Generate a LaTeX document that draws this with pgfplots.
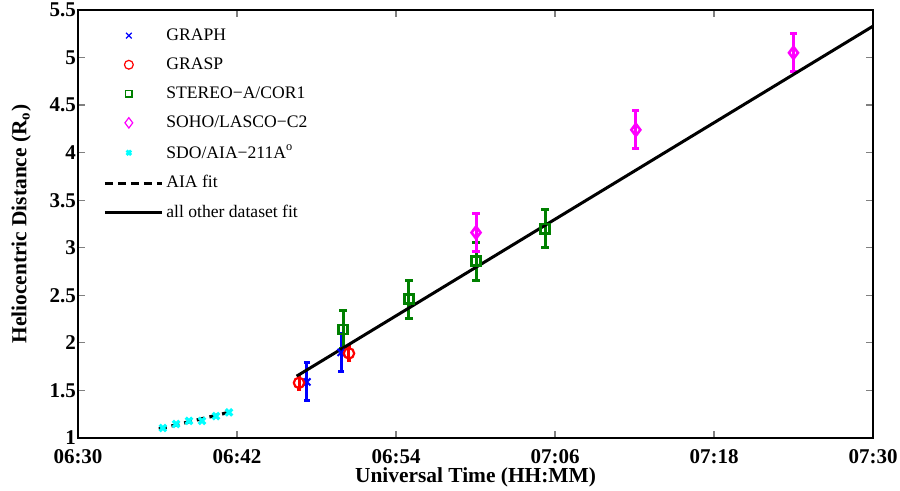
\documentclass[border=0pt]{standalone}
\usepackage{fontspec}
\setmainfont{Liberation Serif}
\usepackage{pgfplots}
\pgfplotsset{compat=1.18}
\definecolor{mgreen}{rgb}{0,0.5,0}
\definecolor{mblue}{rgb}{0,0,1}
\definecolor{mred}{rgb}{1,0,0}
\definecolor{mmag}{rgb}{1,0,1}
\definecolor{mcyan}{rgb}{0,1,1}
\begin{document}
\begin{tikzpicture}
\begin{axis}[
  scale only axis,
  width=397.5pt, height=214pt,
  xmin=0, xmax=60, ymin=1, ymax=5.5,
  xtick={0,12,24,36,48,60},
  xticklabels={06:30,06:42,06:54,07:06,07:18,07:30},
  ytick={1,1.5,2,2.5,3,3.5,4,4.5,5,5.5},
  yticklabels={1,1.5,2,2.5,3,3.5,4,4.5,5,5.5},
  tick label style={font=\fontsize{10.5}{12}\selectfont\bfseries},
  xticklabel style={yshift=-2.3pt},
  yticklabel style={xshift=2.5pt},
  /pgf/number format/assume math mode=true,
  xlabel={Universal Time (HH:MM)},
  ylabel={Heliocentric Distance (R\textsubscript{o})},
  label style={font=\fontsize{10.7}{12}\selectfont\bfseries},
  xlabel style={yshift=5pt},
  ylabel style={yshift=2.5pt},
  axis line style={line width=0.75pt},
  major tick length=3.5pt,
  major tick style={gray, line width=0.6pt},
  legend image code/.code={\draw[mark repeat=2,mark phase=2,#1] plot coordinates {(0pt,0pt) (12pt,0pt) (28.5pt,0pt)};},
  legend style={draw=none, fill=none, at={(rel axis cs:0.0314,0.965)}, anchor=north west,
    font=\fontsize{8.8}{10}\selectfont, row sep=4.2pt, inner sep=0pt,
    nodes={inner sep=1.5pt}},
  legend cell align=left,
]
% GRAPH
\addplot[forget plot, only marks, mark=x, mblue, mark size=2.5pt, mark options={line width=1pt},
  error bars/.cd, y dir=both, y explicit,
  error bar style={line width=1.5pt},
  error mark options={rotate=90, mark size=1.5pt, line width=1.5pt}]
  coordinates {(17.28,1.59) +- (0,0.2) (19.85,1.90) +- (0,0.2)};
% GRASP
\addplot[forget plot, only marks, mark=o, mred, mark size=2.6pt, mark options={line width=1.1pt},
  error bars/.cd, y dir=both, y explicit,
  error bar style={line width=1.5pt},
  error mark options={rotate=90, mark size=1.2pt, line width=1.5pt}]
  coordinates {(16.68,1.58) +- (0,0.07) (20.45,1.89) +- (0,0.07)};
% STEREO-A/COR1
\addplot[forget plot, only marks, mark=square, mgreen, mark size=2.3pt, mark options={line width=1.3pt},
  error bars/.cd, y dir=both, y explicit,
  error bar style={line width=1.5pt},
  error mark options={rotate=90, mark size=1.8pt, line width=1.5pt}]
  coordinates {(20.0,2.14) +- (0,0.2) (24.98,2.46) +- (0,0.2) (30.04,2.86) +- (0,0.2) (35.25,3.20) +- (0,0.2)};
% SOHO/LASCO-C2
\addplot[forget plot, only marks, mark=diamond, mmag, mark size=3pt, mark options={line width=1.3pt},
  error bars/.cd, y dir=both, y explicit,
  error bar style={line width=1.5pt},
  error mark options={rotate=90, mark size=1.8pt, line width=1.5pt}]
  coordinates {(30.04,3.16) +- (0,0.2) (42.1,4.24) +- (0,0.2) (54.0,5.05) +- (0,0.2)};
% AIA fit
\addplot[forget plot, black, line width=1.6pt, dash pattern=on 4pt off 2.5pt]
  coordinates {(6.1,1.095) (11.7,1.28)};
% SDO/AIA
\addplot[forget plot, only marks, mark=x, mcyan, mark size=2.3pt, mark options={line width=1.6pt}]
  coordinates {(6.4,1.105) (7.4,1.147) (8.38,1.18) (9.36,1.18) (10.42,1.23) (11.4,1.27)};
% all other dataset fit
\addplot[forget plot, black, line width=1.5pt]
  coordinates {(16.5,1.65) (60,5.33)};

\addlegendimage{only marks, mark=x, mblue, mark size=2pt, mark options={line width=0.6pt}}
\addlegendentry{GRAPH}
\addlegendimage{only marks, mark=o, mred, mark size=2.2pt, mark options={line width=0.6pt}}
\addlegendentry{GRASP}
\addlegendimage{only marks, mark=square, mgreen, mark size=1.6pt, mark options={line width=0.6pt}}
\addlegendentry{STEREO−A/COR1}
\addlegendimage{only marks, mark=diamond, mmag, mark size=2.6pt, mark options={line width=0.6pt}}
\addlegendentry{SOHO/LASCO−C2}
\addlegendimage{only marks, mark=x, mcyan, mark size=1.6pt, mark options={line width=1.4pt}}
\addlegendentry{SDO/AIA−211A\textsuperscript{o}}
\addlegendimage{black, line width=1.5pt, dash pattern=on 4pt off 2.5pt}
\addlegendentry{AIA fit}
\addlegendimage{black, line width=1.5pt}
\addlegendentry{all other dataset fit}

\coordinate (bl) at (rel axis cs:0,0);
\coordinate (tr) at (rel axis cs:1,1);
\end{axis}
\pgfresetboundingbox
\path ([xshift=-39pt,yshift=-26pt]bl) rectangle ([xshift=13.5pt,yshift=5pt]tr);
\end{tikzpicture}
\end{document}
